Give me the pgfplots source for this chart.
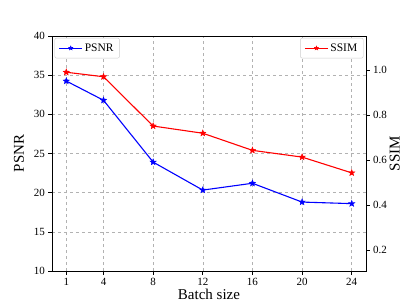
\documentclass[border=0pt]{standalone}
\usepackage{pgfplots}
\pgfplotsset{compat=1.18}
\usepackage{fontspec}
\setmainfont{Liberation Serif}
\usetikzlibrary{calc}
\pgfdeclareplotmark{fstar}{%
  \pgfpathmoveto{\pgfpointpolar{90}{\pgfplotmarksize}}%
  \pgfpathlineto{\pgfpointpolar{126}{0.42\pgfplotmarksize}}%
  \pgfpathlineto{\pgfpointpolar{162}{\pgfplotmarksize}}%
  \pgfpathlineto{\pgfpointpolar{198}{0.42\pgfplotmarksize}}%
  \pgfpathlineto{\pgfpointpolar{234}{\pgfplotmarksize}}%
  \pgfpathlineto{\pgfpointpolar{270}{0.42\pgfplotmarksize}}%
  \pgfpathlineto{\pgfpointpolar{306}{\pgfplotmarksize}}%
  \pgfpathlineto{\pgfpointpolar{342}{0.42\pgfplotmarksize}}%
  \pgfpathlineto{\pgfpointpolar{18}{\pgfplotmarksize}}%
  \pgfpathlineto{\pgfpointpolar{54}{0.42\pgfplotmarksize}}%
  \pgfpathclose
  \pgfusepathqfillstroke}
\begin{document}
\begin{tikzpicture}
\pgfplotsset{
  every tick label/.append style={font=\fontsize{11bp}{13bp}\selectfont},
  /pgf/number format/assume math mode=true,
  every axis label/.append style={font=\fontsize{15bp}{17bp}\selectfont},
  legend style={font=\fontsize{11.5bp}{13bp}\selectfont, draw=black!20, rounded corners=2pt, inner xsep=4bp, inner ysep=3.5bp, row sep=0pt},
  legend cell align=left,
  legend image code/.code={\draw[mark repeat=2, mark phase=2, mark size=2.2bp] plot coordinates {(0bp,0bp) (11.5bp,0bp) (23bp,0bp)};},
}
\begin{axis}[
  scale only axis, width=314bp, height=235bp,
  xmin=-0.15, xmax=25.15, ymin=10, ymax=40,
  xtick={1,4,8,12,16,20,24},
  ytick={10,15,20,25,30,35,40},
  xtick pos=lower, ytick pos=left, tick align=outside,
  major tick length=3.5bp,
  tick style={black, line width=0.6pt},
  axis line style={line width=0.8pt},
  grid=major, grid style={dashed, gray!60, line width=0.5pt},
  xlabel={Batch size}, ylabel={PSNR},
  xlabel style={yshift=3bp},
  ylabel style={yshift=3bp},
  legend style={at={(0.008,0.992)}, anchor=north west},
]
\addplot[blue, line width=1.1pt, mark=fstar, mark size=3.3bp, mark options={solid, line width=0.4pt}] coordinates {
(1,34.25) (4,31.8) (8,23.9) (12,20.33) (16,21.2) (20,18.8) (24,18.6)};
\addlegendentry{PSNR}
\end{axis}
\begin{axis}[
  scale only axis, width=314bp, height=235bp,
  xmin=-0.15, xmax=25.15, ymin=0.107, ymax=1.151,
  axis x line=none, axis y line*=right,
  ytick={0.2,0.4,0.6,0.8,1.0},
  yticklabel style={/pgf/number format/fixed, /pgf/number format/fixed zerofill, /pgf/number format/precision=1},
  tick align=outside, major tick length=3.5bp,
  tick style={black, line width=0.6pt},
  axis line style={line width=0.8pt, -},
  ylabel={SSIM},
  ylabel style={yshift=4bp},
  legend style={at={(0.992,0.992)}, anchor=north east},
]
\addplot[red, line width=1.1pt, mark=fstar, mark size=3.3bp, mark options={solid, line width=0.4pt}] coordinates {
(1,0.990) (4,0.970) (8,0.751) (12,0.719) (16,0.643) (20,0.613) (24,0.543)};
\addlegendentry{SSIM}
\end{axis}
\useasboundingbox ($(current axis.south west)+(-52bp,-34bp)$) rectangle ($(current axis.north east)+(41bp,36bp)$);
\end{tikzpicture}
\end{document}
